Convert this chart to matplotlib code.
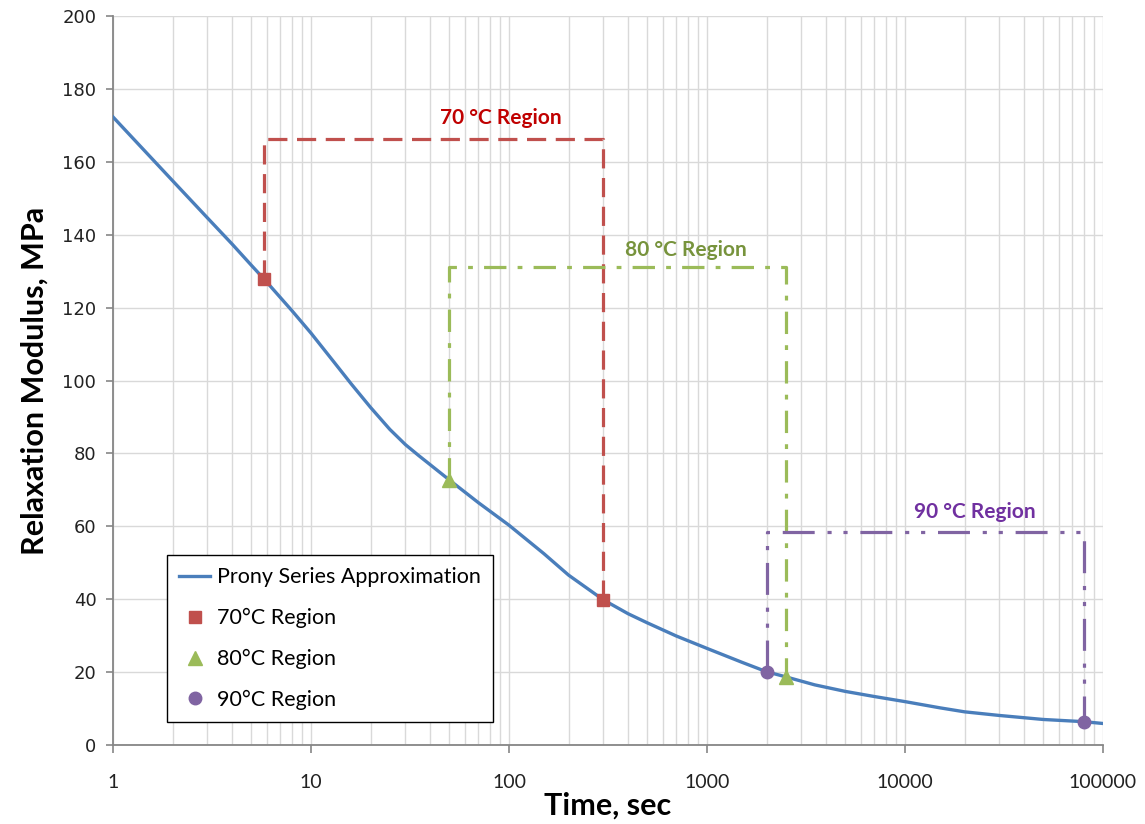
import matplotlib
matplotlib.use("Agg")
import matplotlib.pyplot as plt
from matplotlib import font_manager
from matplotlib.ticker import LogLocator, FixedLocator, NullFormatter

# relaxation modulus (MPa) vs time (sec), Prony series fit
time_s = [1, 2, 3, 4, 5, 5.8, 8, 10, 13, 16, 20, 25, 30, 35, 40, 50, 70, 100, 150,
          200, 300, 400, 500, 700, 1000, 1500, 2000, 2500, 3500, 5000, 7000, 10000,
          15000, 20000, 30000, 50000, 80000, 100000]
modulus = [172.3, 154.8, 144.6, 137.4, 131.6, 127.8, 119.2, 113.0, 105.2, 99.0,
           92.6, 86.6, 82.4, 79.4, 76.9, 72.7, 66.5, 60.3, 52.5, 46.6, 39.8, 36.0,
           33.5, 29.9, 26.5, 22.7, 20.1, 18.7, 16.5, 14.7, 13.3, 11.9, 10.2, 9.1,
           8.1, 7.0, 6.4, 5.9]

# region end points
t70 = [5.8, 300]
e70 = [127.8, 39.8]
t80 = [50, 2500]
e80 = [72.7, 18.7]
t90 = [2000, 80000]
e90 = [20.1, 6.4]

# bracket heights
top70 = 166.2
top80 = 131.2
top90 = 58.5

x_ticks = [1, 10, 100, 1000, 10000, 100000]
y_ticks = [0, 20, 40, 60, 80, 100, 120, 140, 160, 180, 200]


def has_font(name):
    try:
        font_manager.findfont(font_manager.FontProperties(family=name), fallback_to_default=False)
        return True
    except Exception:
        return False


label_font = "Lato" if has_font("Lato") else "DejaVu Sans"

fig = plt.figure(figsize=(11.45, 8.24), dpi=100)
ax = fig.add_axes([113 / 1145, 79 / 824, 990 / 1145, 729 / 824])

ax.set_xscale("log")
ax.set_xlim(1, 100000)
ax.set_ylim(0, 200)

ax.xaxis.set_major_locator(FixedLocator(x_ticks))
ax.xaxis.set_minor_locator(LogLocator(base=10, subs=range(2, 10)))
ax.xaxis.set_minor_formatter(NullFormatter())
ax.set_xticklabels([str(v) for v in x_ticks])
ax.yaxis.set_major_locator(FixedLocator(y_ticks))

ax.grid(which="major", axis="both", color="#D9D9D9", linewidth=1.0)
ax.grid(which="minor", axis="x", color="#D9D9D9", linewidth=1.0)
ax.set_axisbelow(True)

for s in ["top", "right"]:
    ax.spines[s].set_visible(False)
for s in ["left", "bottom"]:
    ax.spines[s].set_color("#868686")
    ax.spines[s].set_linewidth(1.3)

ax.tick_params(axis="x", which="major", direction="out", length=6, width=1.2,
               color="#868686", pad=15)
ax.tick_params(axis="x", which="minor", length=0)
ax.tick_params(axis="y", direction="out", length=5, width=1.2, color="#868686", pad=7)
for lab in ax.get_xticklabels():
    lab.set_fontfamily(label_font)
    lab.set_fontsize(14)
    lab.set_color("#222222")
for lab in ax.get_yticklabels():
    lab.set_fontfamily("DejaVu Sans")
    lab.set_fontsize(13)
    lab.set_color("#222222")

# bracket lines for each temperature region
ax.plot([t70[0], t70[0], t70[1], t70[1]], [e70[0], top70, top70, e70[1]],
        color="#C0504D", linewidth=2.3, dashes=(6, 3), zorder=2)
ax.plot([t80[0], t80[0], t80[1], t80[1]], [e80[0], top80, top80, e80[1]],
        color="#9BBB59", linewidth=2.3, dashes=(7, 3.5, 1.5, 3.5), zorder=2)
ax.plot([t90[0], t90[0], t90[1], t90[1]], [e90[0], top90, top90, e90[1]],
        color="#8064A2", linewidth=2.3, dashes=(10, 4, 1.3, 3.7, 1.3, 4), zorder=2)

ax.plot(time_s, modulus, color="#4A7EBB", linewidth=2.4, label="Prony Series Approximation",
        zorder=3)
ax.plot(t70, e70, linestyle="none", marker="s", markersize=8.5, color="#C0504D",
        label="70°C Region", zorder=4)
ax.plot(t80, e80, linestyle="none", marker="^", markersize=9.5, color="#9BBB59",
        label="80°C Region", zorder=4)
ax.plot(t90, e90, linestyle="none", marker="o", markersize=9, color="#8064A2",
        label="90°C Region", zorder=4)

ax.text(91, 172.0, "70 °C Region", color="#C00000", fontsize=15, fontweight="bold",
        family=label_font, ha="center", va="center")
ax.text(785, 135.8, "80 °C Region", color="#77933C", fontsize=15, fontweight="bold",
        family=label_font, ha="center", va="center")
ax.text(22600, 64.0, "90 °C Region", color="#7030A0", fontsize=15, fontweight="bold",
        family=label_font, ha="center", va="center")

leg = ax.legend(loc="lower left", bbox_to_anchor=(0.0545, 0.0316), borderaxespad=0,
                frameon=True, fancybox=False, edgecolor="black", framealpha=1,
                borderpad=0.56, labelspacing=0.96, handlelength=1.45, handletextpad=0.3,
                prop={"family": label_font, "size": 15.5})
leg.get_frame().set_linewidth(1.0)

ax.set_xlabel("Time, sec", family=label_font, fontweight="bold", fontsize=22, labelpad=0)
ax.set_ylabel("Relaxation Modulus, MPa", family=label_font, fontweight="bold", fontsize=22,
              labelpad=10)

fig.savefig("out.png", dpi=100)
